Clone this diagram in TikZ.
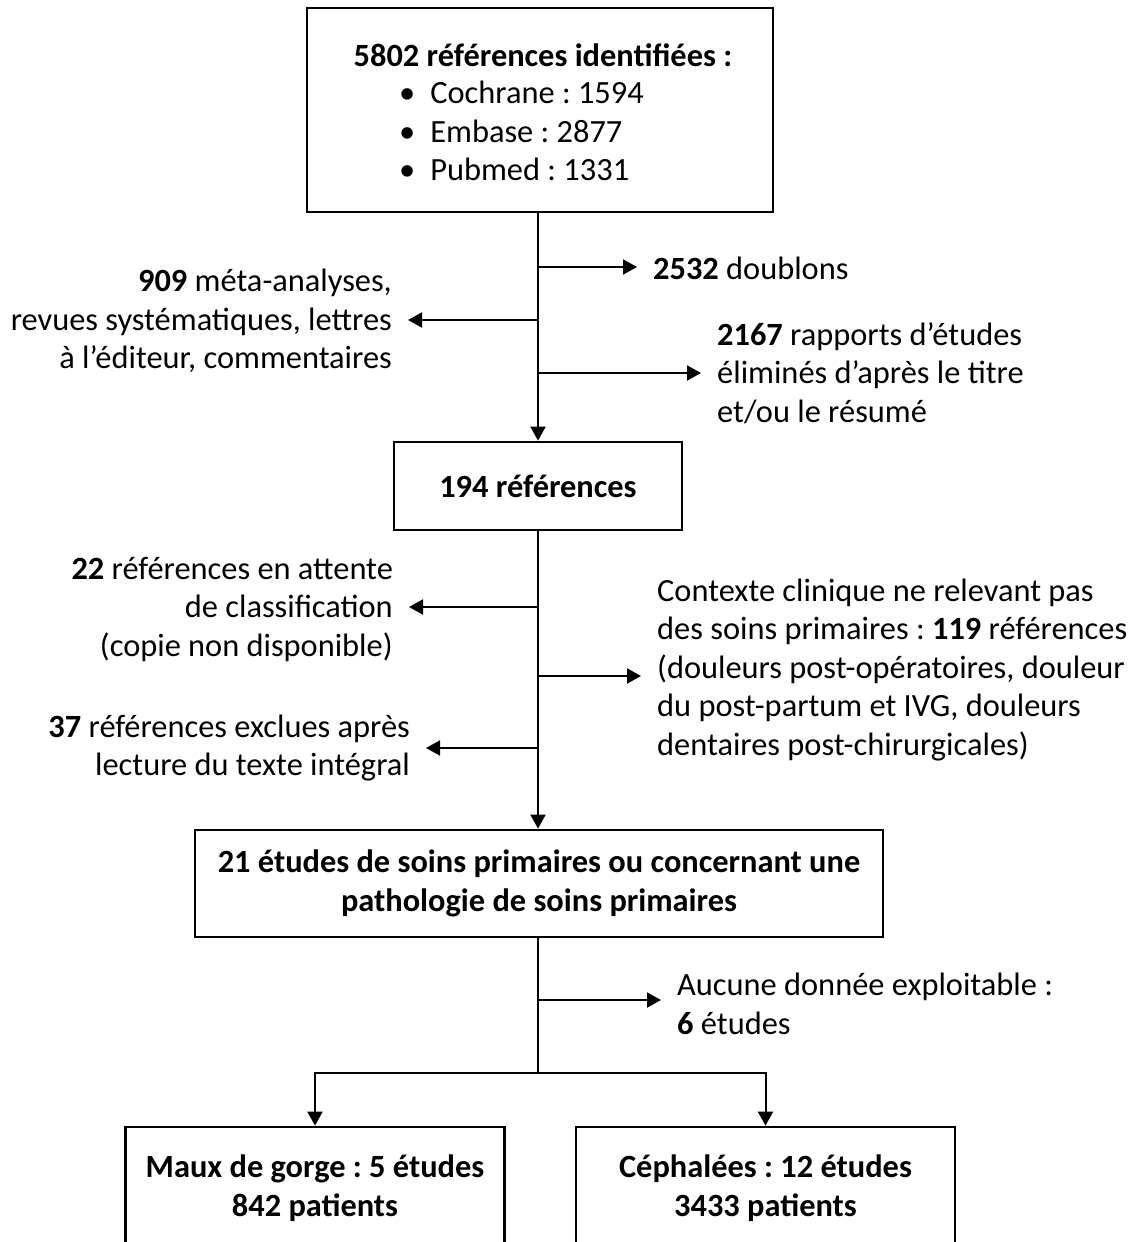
\documentclass[tikz,border=0pt]{standalone}
\usepackage{fontspec}
\setmainfont{Carlito}
\usetikzlibrary{arrows.meta,positioning}
\newcommand\flowfont{\fontsize{32.4}{38.5}\selectfont}
\frenchspacing

\begin{document}
\begin{tikzpicture}[x=1pt, y=-1pt, every node/.style={font=\flowfont, inner sep=0pt}, >={Triangle[length=14pt, width=15pt]},
	box/.style={draw, line width=2.8pt, font=\flowfont\bfseries, align=center},
	flow/.style={line width=2pt},
	sidetxt/.style={inner xsep=16pt}]
	\useasboundingbox (0,0) rectangle (1137,1242);
	\clip (0,0) rectangle (1137,1242);
	% boxes
	\node[box, minimum width=466, minimum height=204] (ident) at (540,110) {};
	\node[font=\flowfont\bfseries] (identhead) at (543,55) {5802 références identifiées :};
	\node[anchor=west, align=left] (identlist) at (399,131) {•\hspace{15pt}Cochrane : 1594\\•\hspace{15pt}Embase : 2877\\•\hspace{15pt}Pubmed : 1331};
	\node[box, minimum width=288, minimum height=88] (refs) at (538,486) {194 références};
	\node[box, minimum width=688, minimum height=107] (soins) at (539,883.5) {21 études de soins primaires ou concernant une\\pathologie de soins primaires};
	\node[box, minimum width=379, minimum height=122] (gorge) at (315,1188) {Maux de gorge : 5 études\\842 patients};
	\node[box, minimum width=379, minimum height=122] (cephal) at (765.5,1188) {Céphalées : 12 études\\3433 patients};
	% first exclusions
	\coordinate (t1) at (538,267);
	\coordinate (t2) at (538,320);
	\coordinate (t3) at (538,373);
	\node[sidetxt, anchor=west] (doublons) at (637,268) {\textbf{2532} doublons};
	\node[sidetxt, anchor=east, align=right] (metas) at (408,321) {\textbf{909} méta-analyses,\\revues systématiques, lettres\\à l’éditeur, commentaires};
	\node[sidetxt, anchor=west, align=left] (titre) at (701,373) {\textbf{2167} rapports d’études\\éliminés d’après le titre\\et/ou le résumé};
	\draw[flow, ->] (ident.south -| refs.north) -- (refs.north);
	\draw[flow, ->] (t1) -- (t1 -| doublons.west);
	\draw[flow, ->] (t2) -- (t2 -| metas.east);
	\draw[flow, ->] (t3) -- (t3 -| titre.west);
	% second exclusions
	\coordinate (u1) at (538,607);
	\coordinate (u2) at (538,676);
	\coordinate (u3) at (538,748);
	\node[sidetxt, anchor=east, align=right] (attente) at (409,609) {\textbf{22} références en attente\\de classification\\(copie non disponible)};
	\node[sidetxt, anchor=west, align=left] (contexte) at (641,670) {Contexte clinique ne relevant pas\\des soins primaires : \textbf{119} références\\(douleurs post-opératoires, douleur\\du post-partum et IVG, douleurs\\dentaires post-chirurgicales)};
	\node[sidetxt, anchor=east, align=right] (exclues) at (426,748) {\textbf{37} références exclues après\\lecture du texte intégral};
	\draw[flow, ->] (refs.south) -- (refs.south |- soins.north);
	\draw[flow, ->] (u1) -- (u1 -| attente.east);
	\draw[flow, ->] (u2) -- (u2 -| contexte.west);
	\draw[flow, ->] (u3) -- (u3 -| exclues.east);
	% final split
	\coordinate (v1) at (538,1000);
	\coordinate (split) at (538,1073);
	\node[sidetxt, anchor=west, align=left] (aucune) at (661,1004) {Aucune donnée exploitable :\\\textbf{6} études};
	\draw[flow] (soins.south -| split) -- (split);
	\draw[flow, ->] (v1) -- (v1 -| aucune.west);
	\draw[flow, ->] (split) -| (gorge.north);
	\draw[flow, ->] (split) -| (cephal.north);
\end{tikzpicture}
\end{document}
